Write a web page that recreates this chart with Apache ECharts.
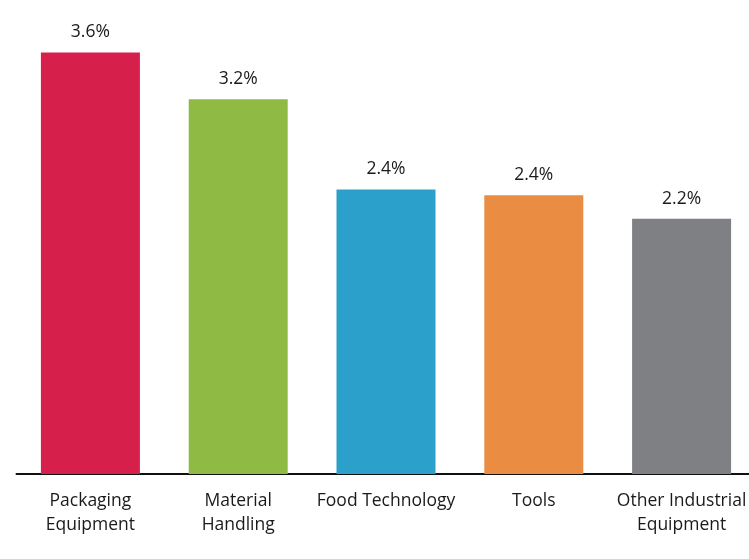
<!DOCTYPE html>
<html>
<head>
<meta charset="utf-8">
<script src="https://cdn.jsdelivr.net/npm/echarts@6/dist/echarts.min.js"></script>
<style>
  html, body { margin: 0; padding: 0; background: #ffffff; }
  #chart { width: 749px; height: 559px; }
</style>
</head>
<body>
<div id="chart"></div>
<script>
// Growth by equipment segment (%)
const categories = ['Packaging\nEquipment', 'Material\nHandling', 'Food Technology', 'Tools', 'Other Industrial\nEquipment'];
const growthValues = [3.6, 3.2, 2.43, 2.38, 2.18];
const barColors = ['#D6204B', '#8FBB45', '#2AA0CA', '#EA8C42', '#7E8083'];

const chart = echarts.init(document.getElementById('chart'));

chart.setOption({
  animation: false,
  grid: { left: 16.5, right: -6.5, top: 5.6, bottom: 85, containLabel: false, outerBoundsMode: 'none' },
  xAxis: {
    type: 'category',
    data: categories,
    axisTick: { show: false },
    axisLine: { show: true, lineStyle: { color: '#111111', width: 2 } },
    axisLabel: {
      interval: 0,
      margin: 15,
      fontFamily: 'Open Sans',
      fontSize: 17.5,
      lineHeight: 24,
      color: '#1a1a1a'
    }
  },
  yAxis: {
    type: 'value',
    min: 0,
    max: 4,
    show: false,
    splitLine: { show: false }
  },
  series: [{
    type: 'bar',
    data: growthValues.map((v, i) => ({ value: v, itemStyle: { color: barColors[i] } })),
    barWidth: 99,
    label: {
      show: true,
      position: 'top',
      distance: 11,
      fontFamily: 'Open Sans',
      fontSize: 17.5,
      color: '#1a1a1a',
      formatter: p => p.value.toFixed(1) + '%'
    }
  }]
});
</script>
</body>
</html>
